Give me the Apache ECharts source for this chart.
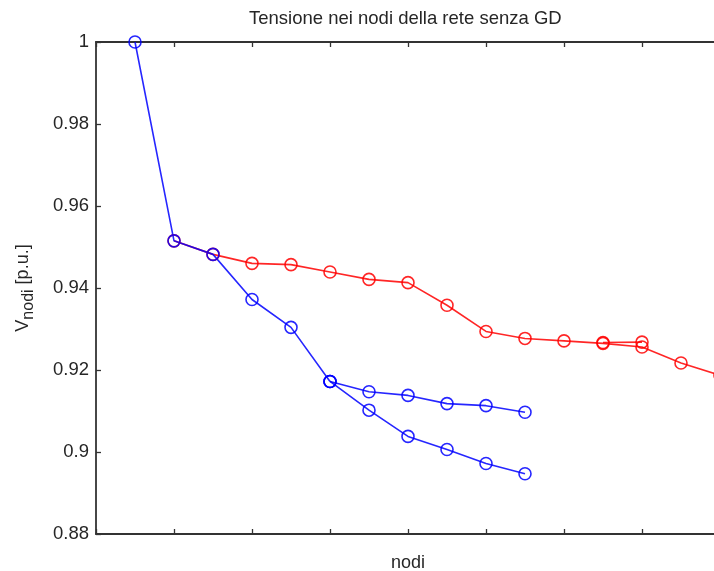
<!DOCTYPE html>
<html>
<head>
<meta charset="utf-8">
<title>Tensione nei nodi della rete senza GD</title>
<script src="https://cdn.jsdelivr.net/npm/echarts@6/dist/echarts.min.js"></script>
</head>
<body style="margin:0;background:#fff">
<div id="container" style="width:714px;height:571px"></div>
<script>
// node index (x) and voltage in p.u. (y)
var blueMainX = [1, 2, 3, 4, 5, 6];
var blueMainV = [1.0, 0.9515, 0.9482, 0.9372, 0.9304, 0.9172];
var blueUpperX = [6, 7, 8, 9, 10, 11];
var blueUpperV = [0.9172, 0.9147, 0.9138, 0.9118, 0.9113, 0.9097];
var blueLowerX = [6, 7, 8, 9, 10, 11];
var blueLowerV = [0.9172, 0.9102, 0.9038, 0.9006, 0.8972, 0.8947];
var redMainX = [2, 3, 4, 5, 6, 7, 8, 9, 10, 11, 12, 13, 14, 15, 16];
var redMainV = [0.9515, 0.9482, 0.9460, 0.9457, 0.9439, 0.9421, 0.9413, 0.9358, 0.9294, 0.9277, 0.9271, 0.9265, 0.9256, 0.9217, 0.9187];
var redBranchX = [13, 14];
var redBranchV = [0.9267, 0.9268];

var FONT = '"Liberation Sans", Arial, sans-serif';
var AXIS_COLOR = '#333';
var TEXT_COLOR = '#262626';

function pairs(xs, vs) {
    var out = [];
    for (var i = 0; i < xs.length; i++) out.push([xs[i], vs[i]]);
    return out;
}

function lineSeries(xs, vs, color) {
    return {
        type: 'line',
        data: pairs(xs, vs),
        symbol: 'circle',
        symbolSize: 12,
        showSymbol: true,
        lineStyle: { color: color, width: 1.6, opacity: 0.85 },
        itemStyle: { color: 'rgba(0,0,0,0)', borderColor: color, borderWidth: 1.6, opacity: 0.85 },
        emphasis: { disabled: true },
        z: 3
    };
}

var axisLine = { show: true, onZero: false, lineStyle: { color: AXIS_COLOR, width: 1.8 } };
var axisTick = { show: true, inside: true, length: 5, lineStyle: { color: AXIS_COLOR, width: 1.3 } };

var myChart = echarts.init(document.getElementById('container'));
var option = {
    animation: false,
    backgroundColor: '#fff',
    title: {
        text: 'Tensione nei nodi della rete senza GD',
        left: 249,
        top: 9,
        padding: 0,
        textStyle: { fontFamily: FONT, fontSize: 18.5, fontWeight: 'normal', color: TEXT_COLOR }
    },
    grid: { left: 96, top: 42, width: 624, height: 492, containLabel: false, outerBoundsMode: 'none' },
    xAxis: [{
        type: 'value', min: 0, max: 16, interval: 2, position: 'bottom',
        axisLine: axisLine, axisTick: axisTick,
        axisLabel: { show: false }, splitLine: { show: false },
        name: 'nodi', nameLocation: 'middle', nameGap: 20,
        nameTextStyle: { fontFamily: FONT, fontSize: 18, color: TEXT_COLOR }
    }, {
        type: 'value', min: 0, max: 16, interval: 2, position: 'top',
        axisLine: axisLine, axisTick: axisTick,
        axisLabel: { show: false }, splitLine: { show: false }
    }],
    yAxis: [{
        type: 'value', min: 0.88, max: 1, interval: 0.02, position: 'left',
        axisLine: axisLine, axisTick: axisTick, splitLine: { show: false },
        axisLabel: {
            margin: 7, fontFamily: FONT, fontSize: 18.5, color: TEXT_COLOR,
            formatter: function (v) { return String(parseFloat(v.toFixed(2))); }
        },
        name: '{a|V}{sub|nodi}{a| [p.u.]}', nameLocation: 'middle', nameGap: 62, nameRotate: 90,
        nameTextStyle: {
            fontFamily: FONT, color: TEXT_COLOR,
            rich: {
                a: { fontFamily: FONT, fontSize: 18, color: TEXT_COLOR, verticalAlign: 'top', lineHeight: 20 },
                sub: { fontFamily: FONT, fontSize: 16, color: TEXT_COLOR, padding: [9, 0, 0, 0], lineHeight: 20 }
            }
        }
    }, {
        type: 'value', min: 0.88, max: 1, interval: 0.02, position: 'right',
        axisLine: axisLine, axisTick: axisTick, splitLine: { show: false },
        axisLabel: { show: false }
    }],
    series: [
        lineSeries(redMainX, redMainV, '#ff0000'),
        lineSeries(redBranchX, redBranchV, '#ff0000'),
        lineSeries(blueMainX, blueMainV, '#0000ff'),
        lineSeries(blueUpperX, blueUpperV, '#0000ff'),
        lineSeries(blueLowerX, blueLowerV, '#0000ff')
    ]
};
myChart.setOption(option);
</script>
</body>
</html>
